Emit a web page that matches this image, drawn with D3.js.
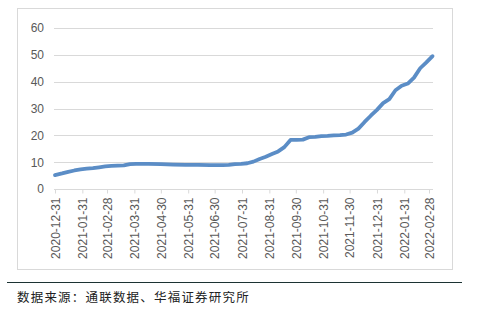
<!DOCTYPE html>
<html>
<head>
<meta charset="utf-8">
<script src="https://cdn.jsdelivr.net/npm/d3@7"></script>
<style>
  body { margin: 0; background: #fff; }
  svg { display: block; }
</style>
</head>
<body>
<svg id="main" width="478" height="314"></svg>
<script>
// DATA
const dates = [
  '2020-12-31', '2021-01-08', '2021-01-15', '2021-01-22', '2021-01-29',
  '2021-02-05', '2021-02-12', '2021-02-19', '2021-02-26', '2021-03-05',
  '2021-03-12', '2021-03-19', '2021-03-26', '2021-04-02', '2021-04-16',
  '2021-04-30', '2021-05-14', '2021-05-28', '2021-06-11', '2021-06-25',
  '2021-07-09', '2021-07-16', '2021-07-23', '2021-07-30', '2021-08-06',
  '2021-08-13', '2021-08-20', '2021-08-27', '2021-09-03', '2021-09-10',
  '2021-09-17', '2021-09-24', '2021-10-01', '2021-10-08', '2021-10-15',
  '2021-10-22', '2021-10-29', '2021-11-05', '2021-11-12', '2021-11-19',
  '2021-11-26', '2021-12-03', '2021-12-10', '2021-12-17', '2021-12-24',
  '2021-12-31', '2022-01-07', '2022-01-14', '2022-01-21', '2022-01-28',
  '2022-02-04', '2022-02-11', '2022-02-18', '2022-02-25', '2022-03-04'
];
const values = [
  5.2, 5.8, 6.4, 6.9, 7.3,
  7.6, 7.8, 8.1, 8.4, 8.6,
  8.7, 8.8, 9.3, 9.4, 9.4,
  9.3, 9.1, 9.0, 9.0, 8.9,
  8.9, 9.0, 9.3, 9.4, 9.6,
  10.2, 11.2, 12.0, 13.0, 14.0,
  15.6, 18.3, 18.3, 18.4, 19.3,
  19.4, 19.7, 19.8, 20.0, 20.1,
  20.3, 21.0, 22.5, 25.0, 27.3,
  29.5, 32.0, 33.5, 36.8, 38.5,
  39.3, 41.5, 45.0, 47.2, 49.5
];
const yTicks = [0, 10, 20, 30, 40, 50, 60];
const xTickLabels = [
  '2020-12-31', '2021-01-31', '2021-02-28', '2021-03-31', '2021-04-30',
  '2021-05-31', '2021-06-30', '2021-07-31', '2021-08-31', '2021-09-30',
  '2021-10-31', '2021-11-30', '2021-12-31', '2022-01-31', '2022-02-28'
];
const sourceText = '数据来源：通联数据、华福证券研究所';

// SETUP
const svg = d3.select('#main');
const parse = d3.timeParse('%Y-%m-%d');
const fmt = d3.timeFormat('%Y-%m-%d');
const data = dates.map((d, i) => ({ date: parse(d), value: values[i] }));

const x = d3
  .scaleTime()
  .domain([parse('2020-12-31'), parse('2022-02-28')])
  .range([55, 429]);
const y = d3.scaleLinear().domain([0, 60]).range([189, 28]);

// chart frame
svg
  .append('rect')
  .attr('x', 17.5)
  .attr('y', 8.5)
  .attr('width', 435)
  .attr('height', 261)
  .attr('fill', 'none')
  .attr('stroke', '#d9d9d9');

// gridlines
svg
  .append('g')
  .selectAll('line')
  .data(yTicks.filter((t) => t > 0))
  .join('line')
  .attr('x1', 54)
  .attr('x2', 433)
  .attr('y1', (d) => Math.round(y(d)) + 0.5)
  .attr('y2', (d) => Math.round(y(d)) + 0.5)
  .attr('stroke', '#d9d9d9');

// y axis labels
const yAxis = svg
  .append('g')
  .attr('transform', 'translate(54,0)')
  .call(d3.axisLeft(y).tickValues(yTicks).tickSize(0).tickPadding(10));
yAxis.select('.domain').remove();
yAxis
  .selectAll('text')
  .attr('fill', '#595959')
  .style('font-family', 'Liberation Sans, Arial, sans-serif')
  .style('font-size', '12px');

// x axis
const xAxis = svg
  .append('g')
  .attr('transform', `translate(0,${Math.round(y(0)) + 0.5})`)
  .call(
    d3
      .axisBottom(x)
      .tickValues(xTickLabels.map(parse))
      .tickFormat(fmt)
      .tickSize(4)
      .tickSizeOuter(0)
  );
xAxis.select('.domain').attr('stroke', '#d9d9d9').attr('d', 'M54,0H433');
xAxis.selectAll('.tick line').attr('stroke', '#d9d9d9');
xAxis
  .selectAll('text')
  .attr('fill', '#595959')
  .style('font-family', 'Liberation Sans, Arial, sans-serif')
  .style('font-size', '12px')
  .attr('text-anchor', 'end')
  .attr('transform', 'rotate(-90)')
  .attr('x', -8)
  .attr('y', 0)
  .attr('dy', '0.35em');

// line
const line = d3
  .line()
  .x((d) => x(d.date))
  .y((d) => y(d.value));
svg
  .append('path')
  .datum(data)
  .attr('fill', 'none')
  .attr('stroke', '#5b8dc6')
  .attr('stroke-width', 3.8)
  .attr('stroke-linejoin', 'round')
  .attr('stroke-linecap', 'round')
  .attr('d', line);

// source rule and text
svg
  .append('line')
  .attr('x1', 7)
  .attr('x2', 462)
  .attr('y1', 282.5)
  .attr('y2', 282.5)
  .attr('stroke', '#1c3333')
  .attr('stroke-width', 1);
svg
  .append('text')
  .attr('x', 17)
  .attr('y', 302)
  .attr('fill', '#222')
  .style('font-family', 'Noto Sans CJK SC, sans-serif')
  .style('font-size', '12.5px')
  .style('letter-spacing', '1.2px')
  .text(sourceText);
</script>
</body>
</html>
